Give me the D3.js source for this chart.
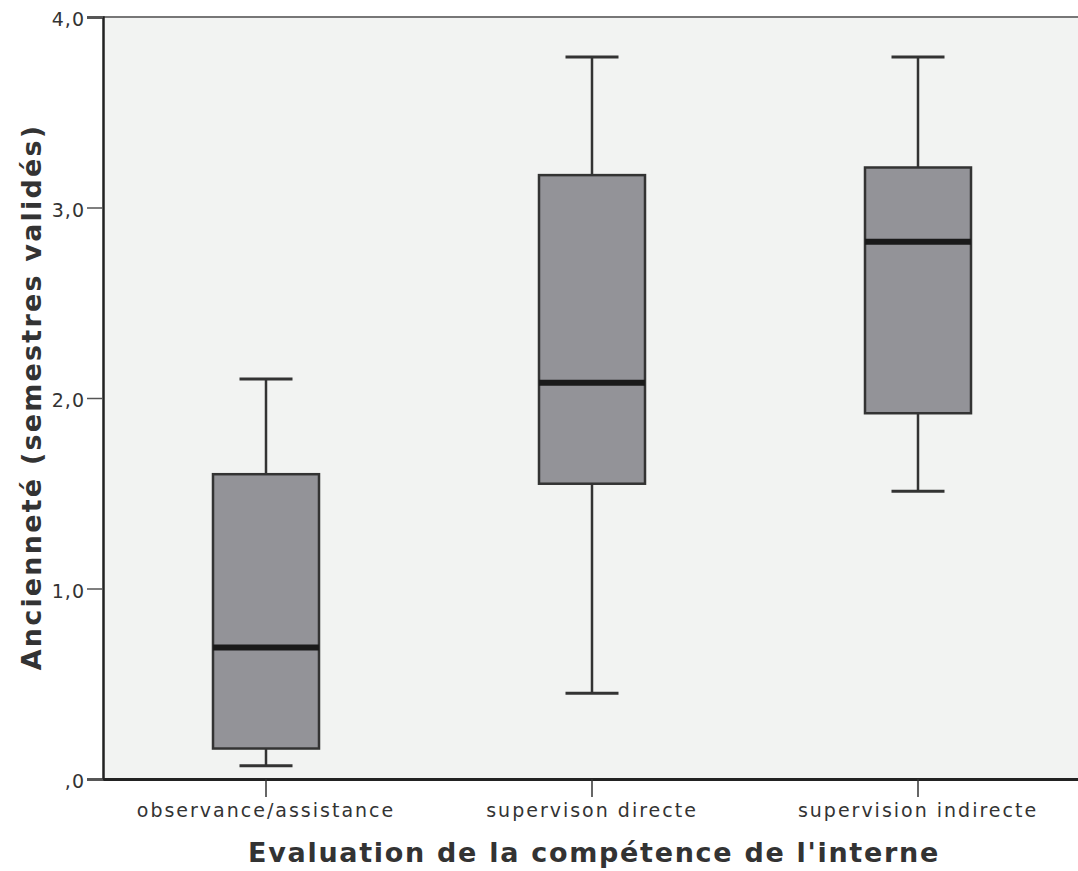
<!DOCTYPE html>
<html><head><meta charset="utf-8">
<script src="https://cdn.jsdelivr.net/npm/d3@7"></script>
<style>body{margin:0;background:#fff;} svg{display:block;}</style>
</head><body>
<script>
const categories = ["observance/assistance", "supervison directe", "supervision indirecte"];
const whiskerLow = [0.07, 0.45, 1.51];
const q1 = [0.16, 1.55, 1.92];
const median = [0.69, 2.08, 2.82];
const q3 = [1.60, 3.17, 3.21];
const whiskerHigh = [2.10, 3.79, 3.79];
const yTicks = [0, 1, 2, 3, 4];
const yTickLabels = [",0", "1,0", "2,0", "3,0", "4,0"];
const xTitle = "Evaluation de la compétence de l'interne";
const yTitle = "Ancienneté (semestres validés)";

const W = 1078, H = 871;
const m = {left: 103, top: 17, right: 0, bottom: 92};
const svg = d3.select("body").append("svg").attr("width", W).attr("height", H);
const pw = W - m.left - m.right, ph = H - m.top - m.bottom;
const g = svg.append("g").attr("transform", `translate(${m.left},${m.top})`);

const x = d3.scaleBand().domain(categories).range([0, 978]).paddingInner(0.0).paddingOuter(0);
const y = d3.scaleLinear().domain([0, 4]).range([ph, 0]);

g.append("rect").attr("width", pw).attr("height", ph).attr("fill", "#f2f3f2");
g.append("line").attr("x1", 0).attr("x2", pw).attr("y1", 0).attr("y2", 0).attr("stroke", "#777").attr("stroke-width", 2);

const font = "'DejaVu Sans', sans-serif";
// y axis
const yAxis = g.append("g").call(d3.axisLeft(y).tickValues(yTicks).tickFormat((d,i)=>yTickLabels[i]).tickSize(16).tickPadding(2));
yAxis.select(".domain").attr("stroke", "#222").attr("stroke-width", 2.5);
yAxis.selectAll(".tick line").attr("stroke", "#555").attr("stroke-width", 1.5);
yAxis.selectAll(".tick text").attr("font-family", font).attr("font-size", 19).attr("fill", "#333").attr("dy", "0.45em").attr("letter-spacing", 1);

// x axis
const xAxis = g.append("g").attr("transform", `translate(0,${ph})`).call(d3.axisBottom(x).tickSize(18).tickPadding(4).tickSizeOuter(0));
xAxis.select(".domain").attr("stroke", "#222").attr("stroke-width", 3);
xAxis.selectAll(".tick line").attr("stroke", "#333").attr("stroke-width", 1.5);
xAxis.selectAll(".tick text").attr("font-family", font).attr("font-size", 19).attr("fill", "#333").attr("dy", "0.85em").attr("letter-spacing", 2);

const bw = 106;
const data = categories.map((c, i) => ({c, lo: whiskerLow[i], q1: q1[i], med: median[i], q3: q3[i], hi: whiskerHigh[i]}));
const bx = g.selectAll("g.box").data(data).join("g").attr("class", "box")
  .attr("transform", d => `translate(${x(d.c) + x.bandwidth()/2},0)`);
bx.append("line").attr("y1", d => y(d.hi)).attr("y2", d => y(d.q3)).attr("stroke", "#333").attr("stroke-width", 2.5);
bx.append("line").attr("y1", d => y(d.q1)).attr("y2", d => y(d.lo)).attr("stroke", "#333").attr("stroke-width", 2.5);
bx.append("line").attr("x1", -bw/4).attr("x2", bw/4).attr("y1", d => y(d.hi)).attr("y2", d => y(d.hi)).attr("stroke", "#333").attr("stroke-width", 3);
bx.append("line").attr("x1", -bw/4).attr("x2", bw/4).attr("y1", d => y(d.lo)).attr("y2", d => y(d.lo)).attr("stroke", "#333").attr("stroke-width", 3);
bx.append("rect").attr("x", -bw/2).attr("width", bw).attr("y", d => y(d.q3)).attr("height", d => y(d.q1) - y(d.q3))
  .attr("fill", "#939398").attr("stroke", "#333").attr("stroke-width", 2.5);
bx.append("line").attr("x1", -bw/2).attr("x2", bw/2).attr("y1", d => y(d.med)).attr("y2", d => y(d.med)).attr("stroke", "#1a1a1a").attr("stroke-width", 6);

svg.append("text").attr("x", 594).attr("y", 862).attr("text-anchor", "middle").attr("font-family", font)
  .attr("font-weight", "bold").attr("font-size", 27).attr("fill", "#333").attr("letter-spacing", 1.7).text(xTitle);
svg.append("text").attr("transform", "translate(41,397) rotate(-90)").attr("text-anchor", "middle").attr("font-family", font)
  .attr("font-weight", "bold").attr("font-size", 27).attr("fill", "#333").attr("letter-spacing", 2.2).text(yTitle);
</script>
</body></html>
